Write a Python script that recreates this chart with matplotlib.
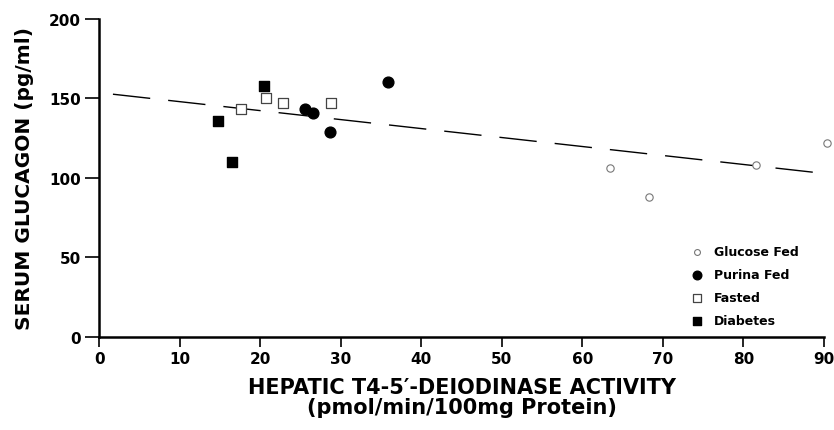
import matplotlib
matplotlib.use("Agg")
import matplotlib.pyplot as plt

plt.rcParams['font.family'] = ['DejaVu Sans']

# values
glucose_x = [63.4, 68.3, 81.5, 90.4]
glucose_y = [106, 88, 108, 122]
purina_x = [25.6, 26.6, 28.7, 35.8]
purina_y = [143, 141, 129, 160]
fasted_x = [17.6, 20.7, 22.8, 28.8]
fasted_y = [143, 150, 147, 147]
diabetes_x = [14.7, 16.5, 20.5]
diabetes_y = [136, 110, 158]

# regression line end points
fit_x = [1.7, 90.5]
fit_y = [152.6, 102.5]

x_ticks = [0, 10, 20, 30, 40, 50, 60, 70, 80, 90]
y_ticks = [0, 50, 100, 150, 200]

fig = plt.figure(figsize=(8.34, 4.31), dpi=100)
ax = fig.add_axes([0.119, 0.216, 0.869, 0.738])

line, = ax.plot(fit_x, fit_y, color='black', lw=1.0, clip_on=False)
line.set_dashes((27, 13))

ax.scatter(glucose_x, glucose_y, s=28, facecolors='white', edgecolors='#777777',
           linewidths=0.8, marker='o', clip_on=False, zorder=3, label='Glucose Fed')
ax.scatter(purina_x, purina_y, s=60, color='black', marker='o',
           clip_on=False, zorder=3, label='Purina Fed')
ax.scatter(fasted_x, fasted_y, s=55, facecolors='white', edgecolors='#444444',
           linewidths=0.9, marker='s', clip_on=False, zorder=3, label='Fasted')
ax.scatter(diabetes_x, diabetes_y, s=60, color='black', marker='s',
           clip_on=False, zorder=3, label='Diabetes')

ax.set_xlim(0, 90)
ax.set_ylim(0, 200)
ax.set_xticks(x_ticks)
ax.set_yticks(y_ticks)
ax.spines['top'].set_visible(False)
ax.spines['right'].set_visible(False)
ax.spines['left'].set_linewidth(1.8)
ax.spines['bottom'].set_linewidth(1.8)
ax.tick_params(axis='y', length=10, width=1.2, labelsize=11, pad=3)
ax.tick_params(axis='x', length=7, width=1.2, labelsize=11, pad=3)
for lab in ax.get_xticklabels() + ax.get_yticklabels():
    lab.set_fontweight('bold')

ax.set_ylabel('SERUM GLUCAGON (pg/ml)', fontsize=14.5, fontweight='bold', labelpad=11)
ax.set_xlabel('HEPATIC T4-5\u2032-DEIODINASE ACTIVITY\n(pmol/min/100mg Protein)',
              fontsize=15, fontweight='bold', labelpad=8, linespacing=1.0)

leg = ax.legend(loc='upper left', bbox_to_anchor=(0.8, 0.305), frameon=False,
                prop={'weight': 'bold', 'size': 9}, handletextpad=0.4,
                labelspacing=0.8, markerscale=0.8, borderaxespad=0)

fig.savefig('out.png', dpi=100)
